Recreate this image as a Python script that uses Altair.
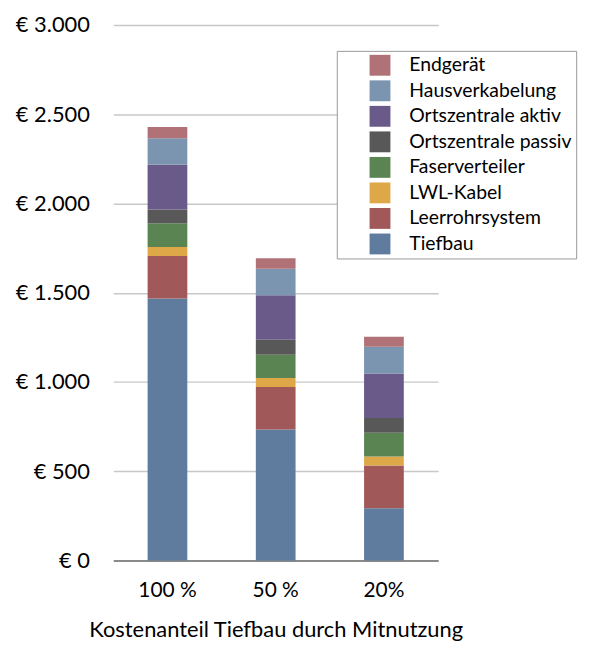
import altair as alt
import pandas as pd

groups = ["100 %", "50 %", "20%"]
components = ["Endgerät", "Hausverkabelung", "Ortszentrale aktiv", "Ortszentrale passiv",
              "Faserverteiler", "LWL-Kabel", "Leerrohrsystem", "Tiefbau"]
colors = ["#b07276", "#7b94b0", "#6a5a8a", "#585858", "#5a8452", "#dea848", "#a05858", "#5f7c9e"]

tiefbau = [1467, 733, 293]
leerrohrsystem = [239, 239, 239]
lwl_kabel = [50, 50, 50]
faserverteiler = [133, 131, 133]
oz_passiv = [78, 83, 83]
oz_aktiv = [250, 250, 250]
hausverkabelung = [148, 148, 150]
endgeraet = [63, 59, 56]

series = {
    "Tiefbau": tiefbau,
    "Leerrohrsystem": leerrohrsystem,
    "LWL-Kabel": lwl_kabel,
    "Faserverteiler": faserverteiler,
    "Ortszentrale passiv": oz_passiv,
    "Ortszentrale aktiv": oz_aktiv,
    "Hausverkabelung": hausverkabelung,
    "Endgerät": endgeraet,
}

rows = []
for rank, (name, vals) in enumerate(series.items()):
    for g, v in zip(groups, vals):
        rows.append({"Gruppe": g, "Komponente": name, "Wert": v, "Rang": rank})
df = pd.DataFrame(rows)

chart = alt.Chart(df).mark_bar().encode(
    x=alt.X("Gruppe:N", sort=groups,
            scale=alt.Scale(paddingInner=0.633, paddingOuter=0.317),
            axis=alt.Axis(title="Kostenanteil Tiefbau durch Mitnutzung", labelAngle=0,
                          labelFontSize=21, titleFontSize=22, titleFontWeight="normal",
                          labelPadding=19, titlePadding=20, ticks=False,
                          domainColor="#8a8a8a", domainWidth=2, labelColor="black",
                          titleColor="black")),
    y=alt.Y("Wert:Q", stack="zero", scale=alt.Scale(domain=[0, 3000]),
            axis=alt.Axis(title=None, values=[0, 500, 1000, 1500, 2000, 2500, 3000],
                          labelExpr="'€ ' + replace(format(datum.value, ','), ',', '.')",
                          labelFontSize=22, labelPadding=24, ticks=False, domain=False,
                          gridColor="#c8c8c8", gridWidth=1.5, labelColor="black")),
    color=alt.Color("Komponente:N",
                    scale=alt.Scale(domain=components, range=colors),
                    legend=alt.Legend(title=None, orient="none", legendX=225, legendY=26,
                                      fillColor="white", strokeColor="#999999",
                                      padding=4, symbolType="square", symbolSize=441,
                                      symbolStrokeWidth=0, symbolOpacity=1,
                                      labelFontSize=19.5, labelColor="black",
                                      symbolOffset=29, labelOffset=19, rowPadding=4.7,
                                      labelLimit=300)),
    order=alt.Order("Rang:Q", sort="ascending"),
).properties(
    width=327, height=539,
    autosize=alt.AutoSizeParams(type="none"),
    padding={"left": 106, "top": 15, "right": 165, "bottom": 84},
).configure(font="Lato").configure_view(stroke=None)

chart.save("out.html", embed_options={"renderer": "svg", "actions": False})
